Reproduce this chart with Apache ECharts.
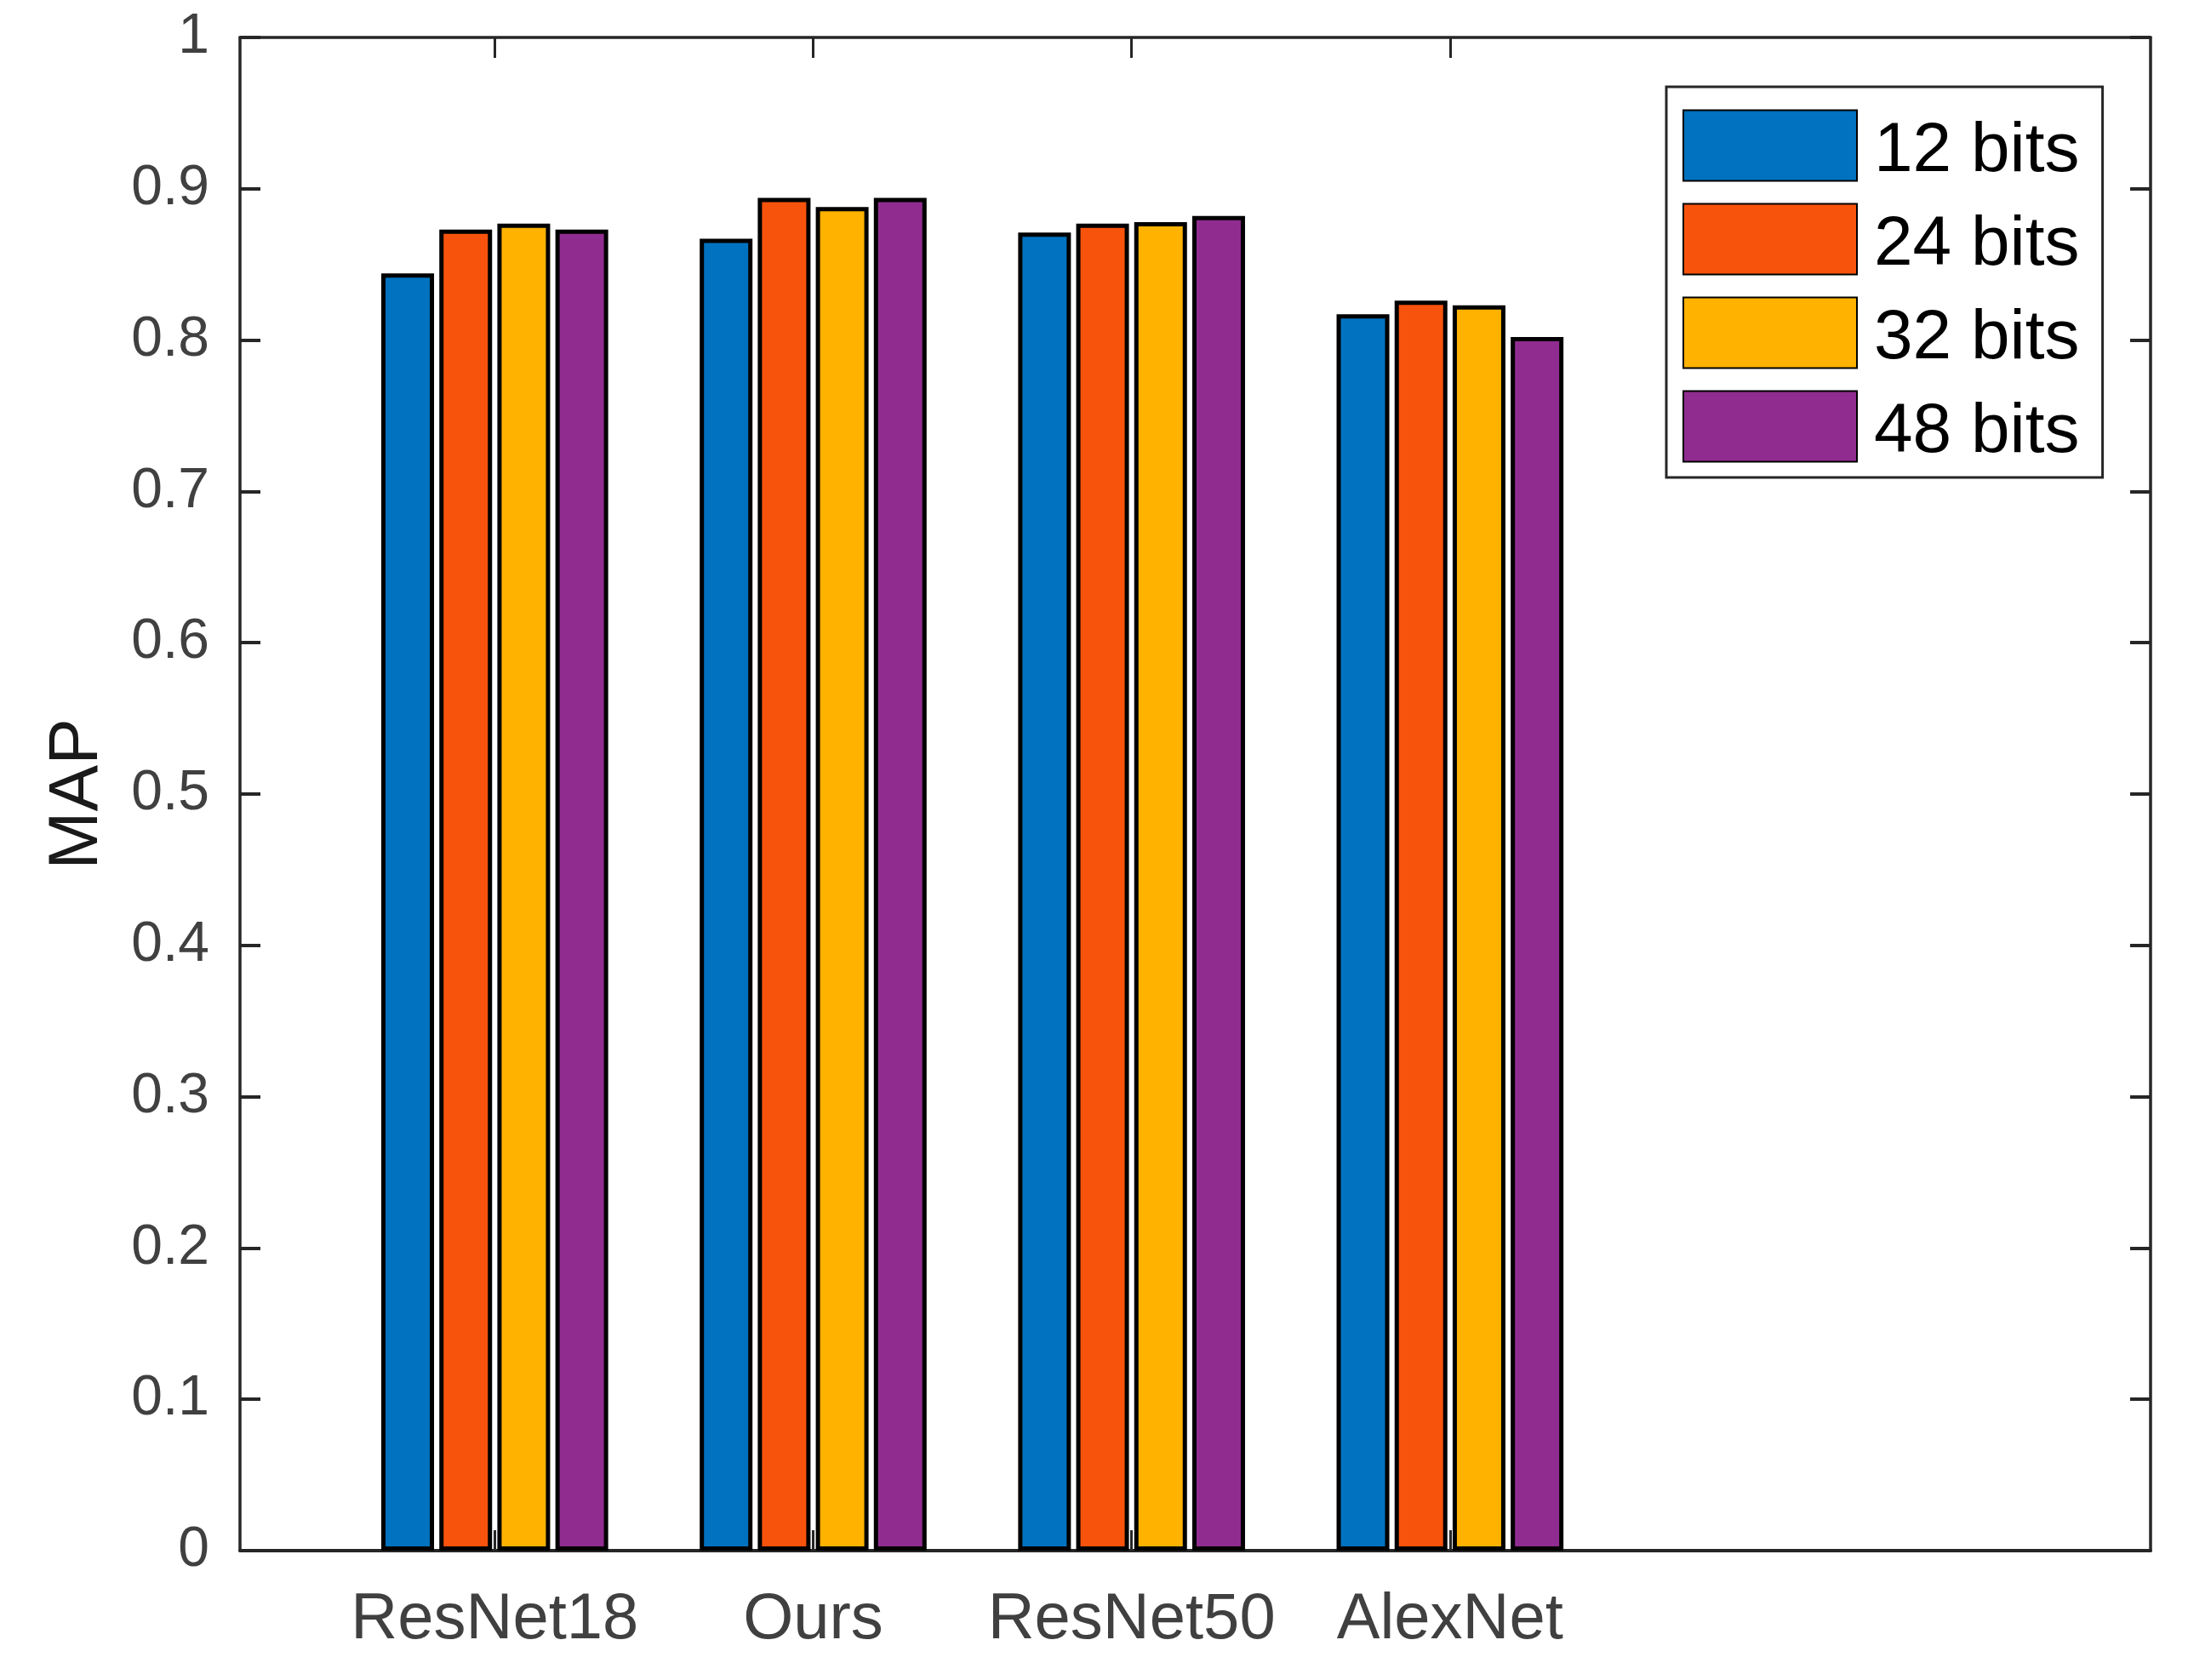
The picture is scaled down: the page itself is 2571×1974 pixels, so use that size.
<!DOCTYPE html>
<html lang="en">
<head>
    <meta charset="UTF-8">
    <title>MAP</title>
    <script type="text/javascript" src="https://cdn.jsdelivr.net/npm/echarts@6/dist/echarts.min.js"></script>
    <style>
        html, body { margin: 0; padding: 0; background: #fff; }
    </style>
</head>
<body>
<div id="bar-map" style="width: 2571px;height: 1974px"></div>
<script type="text/javascript">
    // data
    var models = ['ResNet18', 'Ours', 'ResNet50', 'AlexNet'];
    var modelPos = [1, 2, 3, 4];
    var bitNames = ['12 bits', '24 bits', '32 bits', '48 bits'];
    var bits12 = [0.844, 0.867, 0.871, 0.817];
    var bits24 = [0.873, 0.894, 0.877, 0.826];
    var bits32 = [0.877, 0.888, 0.878, 0.823];
    var bits48 = [0.873, 0.894, 0.882, 0.802];
    var yTicks = [0, 0.1, 0.2, 0.3, 0.4, 0.5, 0.6, 0.7, 0.8, 0.9, 1];

    var colors = ['#0072BF', '#F8530C', '#FFB200', '#902C8F'];
    var allValues = [bits12, bits24, bits32, bits48];
    var font = 'Liberation Sans, Arial, Helvetica, sans-serif';
    var axisColor = '#262626';

    var chartDom = document.getElementById('bar-map');
    var myChart = echarts.init(chartDom);

    var series = [];
    for (var i = 0; i < bitNames.length; i++) {
        var pts = [];
        for (var j = 0; j < modelPos.length; j++) {
            pts.push([modelPos[j], allValues[i][j]]);
        }
        series.push({
            name: bitNames[i],
            type: 'bar',
            xAxisIndex: 0,
            yAxisIndex: 0,
            data: pts,
            barWidth: 62,
            barGap: '10%',
            itemStyle: {
                color: colors[i],
                borderColor: '#000',
                borderWidth: 5
            },
            emphasis: { disabled: true }
        });
    }

    var xBase = {
        type: 'value',
        min: 0.2,
        max: 6.2,
        splitLine: { show: false },
        axisLine: { show: true, onZero: false, lineStyle: { color: axisColor, width: 3.5 } },
        axisTick: {
            show: true,
            inside: true,
            length: 24,
            customValues: modelPos,
            lineStyle: { color: axisColor, width: 3 }
        }
    };

    var option = {
        animation: false,
        backgroundColor: '#ffffff',
        color: colors,
        grid: {
            left: 282,
            right: 44,
            top: 44,
            bottom: 152,
            containLabel: false
        },
        legend: {
            orient: 'vertical',
            left: 1958,
            top: 102,
            padding: [21, 27, 12, 19],
            itemWidth: 204,
            itemHeight: 83,
            itemGap: 14,
            icon: 'rect',
            borderColor: axisColor,
            borderWidth: 3,
            backgroundColor: '#fff',
            formatter: '{t|{name}}',
            textStyle: {
                fontFamily: font,
                fontSize: 82,
                color: '#000',
                rich: {
                    t: {
                        fontFamily: font,
                        fontSize: 82,
                        color: '#000',
                        lineHeight: 74,
                        padding: [14, 0, 0, 15]
                    }
                }
            },
            data: bitNames
        },
        xAxis: [
            Object.assign({}, xBase, {
                position: 'bottom',
                axisLine: { show: true, onZero: false, lineStyle: { color: axisColor, width: 4 } },
                axisLabel: {
                    show: true,
                    customValues: modelPos,
                    margin: 44,
                    fontFamily: font,
                    fontSize: 76,
                    color: '#404040',
                    formatter: function (v) {
                        return models[modelPos.indexOf(v)] || '';
                    }
                }
            }),
            Object.assign({}, xBase, {
                position: 'top',
                axisLabel: { show: false }
            })
        ],
        yAxis: [
            {
                type: 'value',
                position: 'left',
                min: 0,
                max: 1,
                interval: 0.1,
                name: 'MAP',
                nameLocation: 'middle',
                nameRotate: 90,
                nameGap: 150,
                nameTextStyle: {
                    fontFamily: font,
                    fontSize: 82,
                    color: '#1a1a1a'
                },
                splitLine: { show: false },
                axisLine: { show: true, lineStyle: { color: axisColor, width: 3.5 } },
                axisTick: { show: true, inside: true, length: 24, lineStyle: { color: axisColor, width: 4 } },
                axisLabel: {
                    margin: 36,
                    fontFamily: font,
                    fontSize: 66,
                    color: '#404040',
                    formatter: function (v) {
                        var t = yTicks.filter(function (k) { return Math.abs(k - v) < 1e-9; });
                        return t.length ? String(t[0]) : '';
                    }
                }
            },
            {
                type: 'value',
                position: 'right',
                min: 0,
                max: 1,
                interval: 0.1,
                splitLine: { show: false },
                axisLine: { show: true, lineStyle: { color: axisColor, width: 3.5 } },
                axisTick: { show: true, inside: true, length: 24, lineStyle: { color: axisColor, width: 4 } },
                axisLabel: { show: false }
            }
        ],
        series: series
    };
    option && myChart.setOption(option);
</script>
</body>
</html>
